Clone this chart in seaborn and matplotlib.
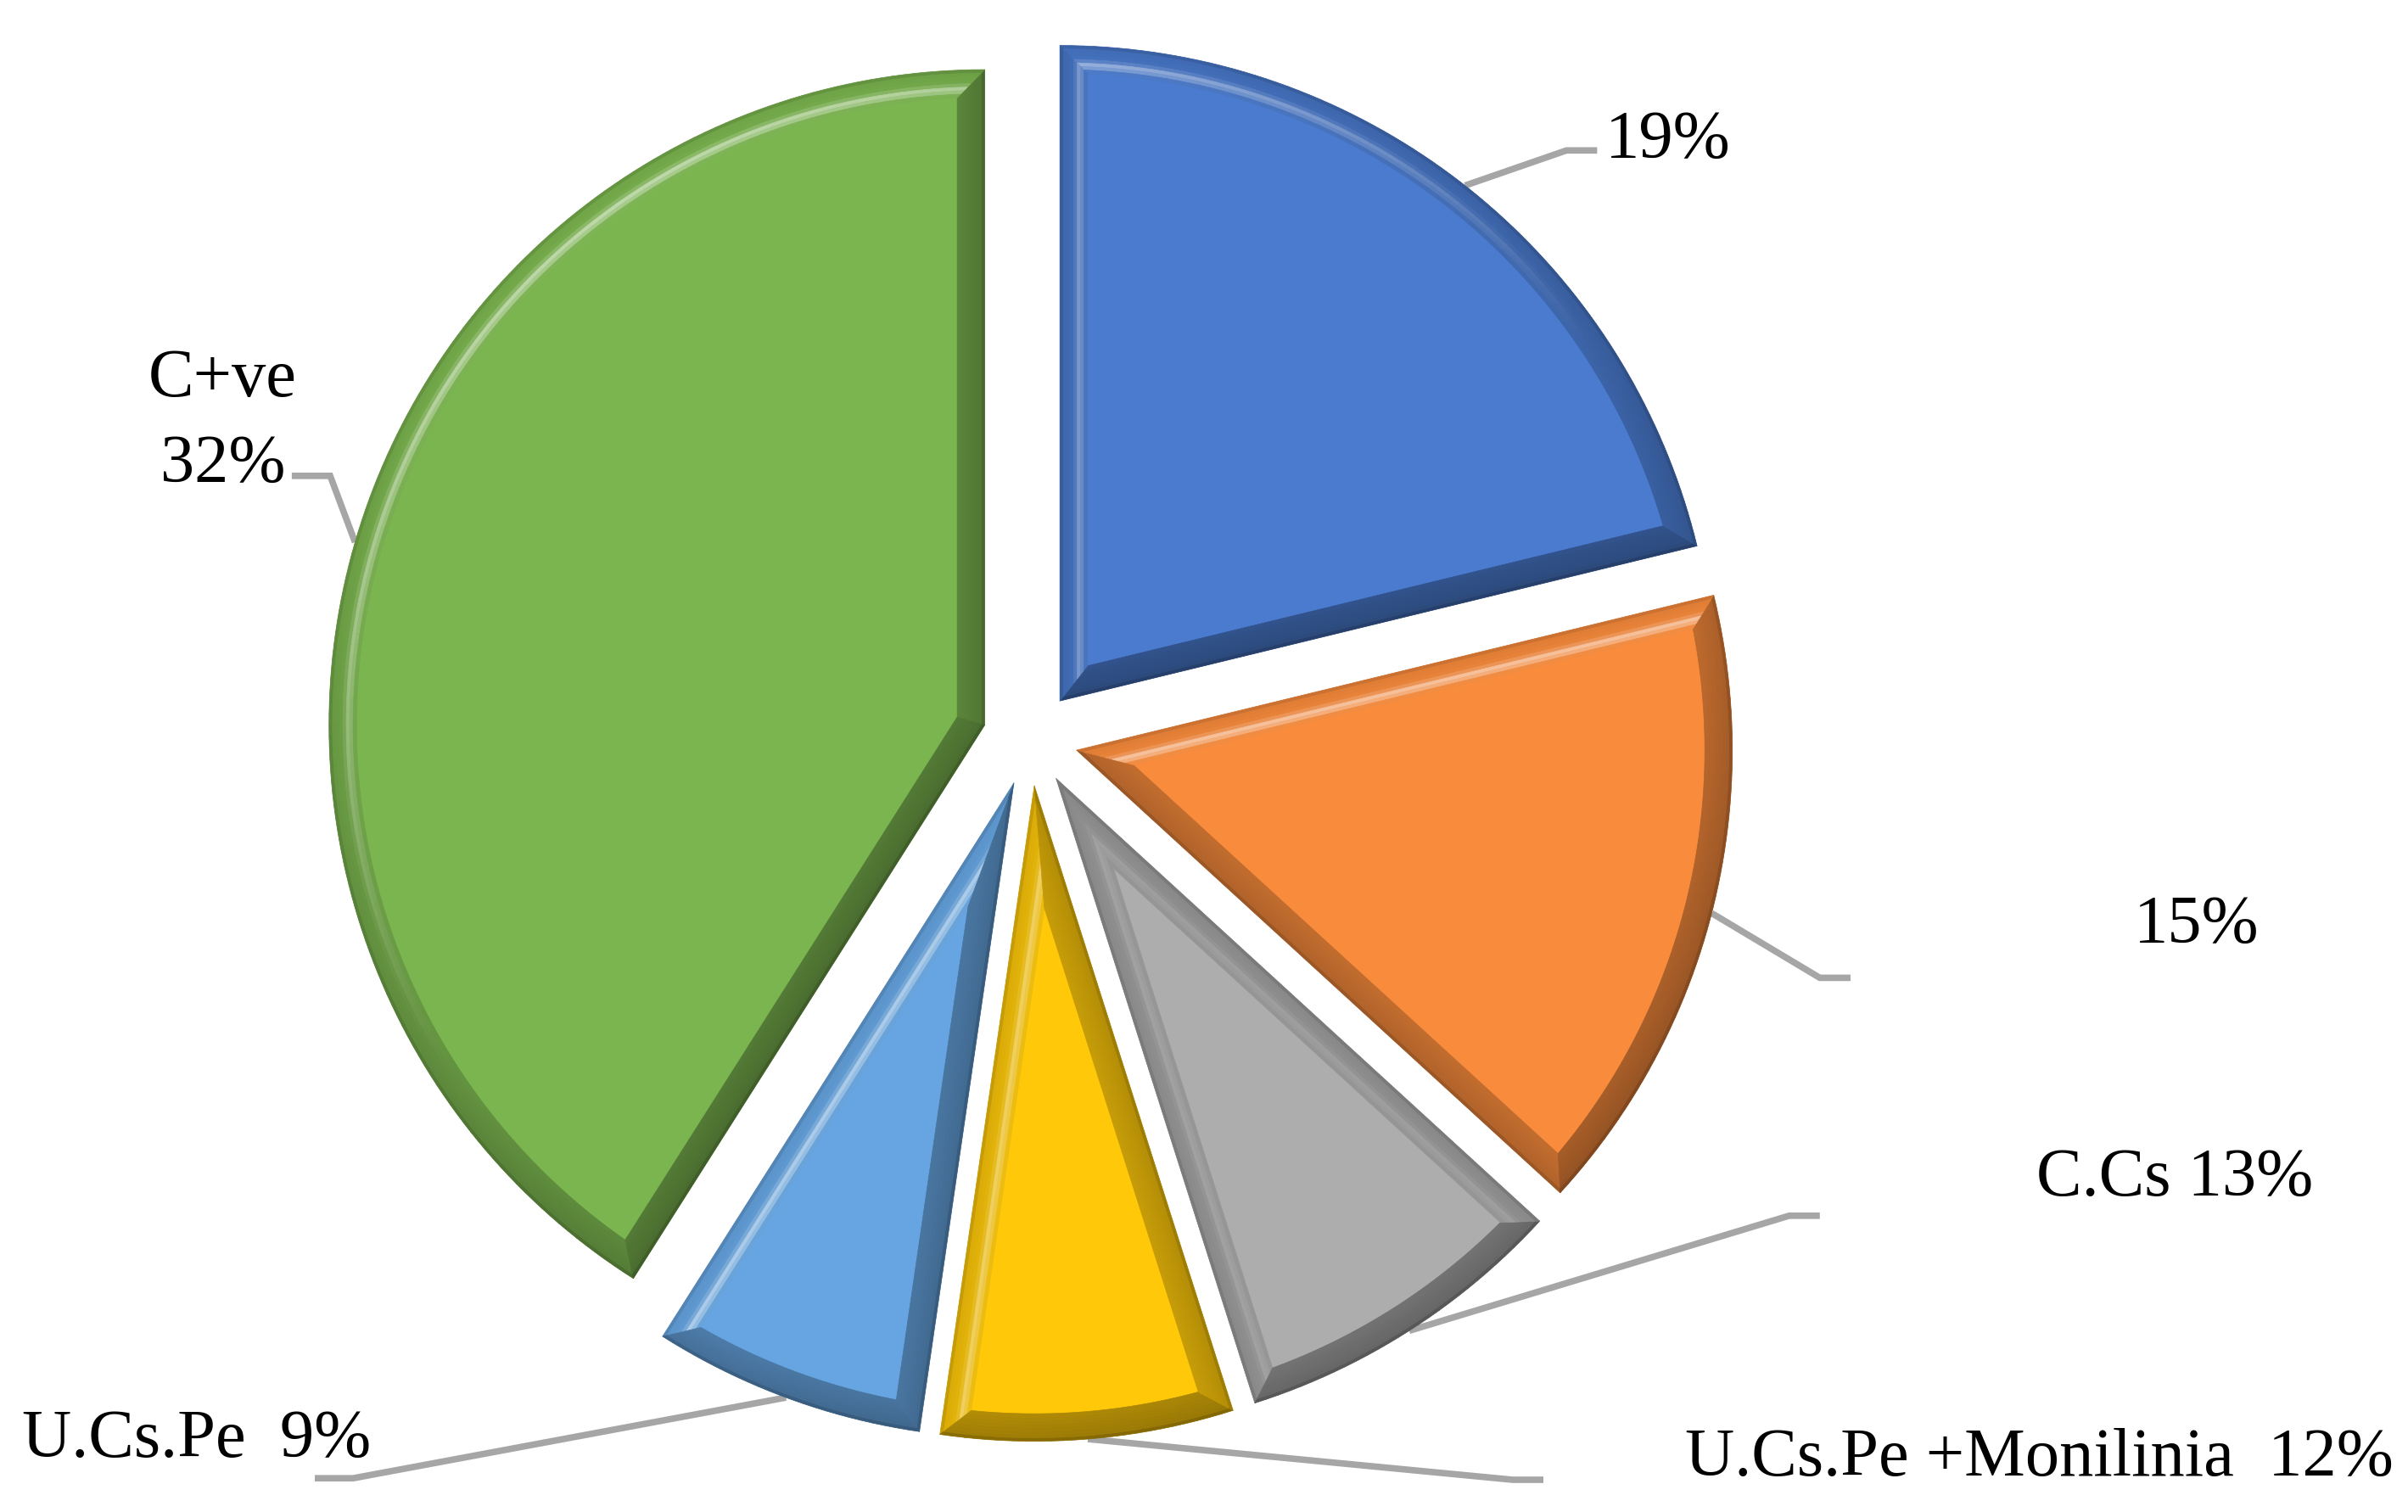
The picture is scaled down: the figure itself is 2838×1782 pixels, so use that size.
import numpy as np
import matplotlib
matplotlib.use("Agg")
import matplotlib.pyplot as plt
import seaborn as sns
from matplotlib.collections import PolyCollection
from matplotlib.colors import to_rgb

# ---- data (slice sizes; label texts as printed) ----
shares = [21.2, 15.6, 8.3, 7.2, 6.7, 41.0]
label_texts = ["19%", "15%", "C.Cs 13%", "U.Cs.Pe +Monilinia  12%", "U.Cs.Pe  9%", "C+ve\n32%"]
slice_colors = ["#4A7BCF", "#F98B3C", "#ADADAD", "#FFC90A", "#66A5E1", "#7BB54F"]

sns.set_theme(style="white")
plt.rcParams["font.family"] = ["Liberation Serif", "DejaVu Serif"]

palette = sns.color_palette(slice_colors)

fig = plt.figure(figsize=(28.38, 17.82), dpi=100)
ax = fig.add_axes([0, 0, 1, 1])

# reference layout frame (pixel grid of a 1568x985 view), pie centre and radius
CX, CY, R = 671.0, 481.0, 427.0
def ref(x, y):
    return ((x - CX) / R, (CY - y) / R)

wedges, _ = ax.pie(shares, explode=[0.0726] * len(shares), startangle=90,
                   counterclock=False, colors=palette, radius=1.0, center=(0, 0),
                   wedgeprops=dict(linewidth=0), frame=False)
ax.set_aspect("auto")
x0, y1 = ref(0, 0)
x1, y0 = ref(1568, 985)
ax.set_xlim(x0, x1)
ax.set_ylim(y0, y1)
ax.axis("off")

# ---- bevel effect ----
light = np.array([-0.55, 0.83])
light /= np.linalg.norm(light)
D = 0.042
K = 8

def mix(c, other, t):
    c = np.array(to_rgb(c)); o = np.array(to_rgb(other))
    return tuple(np.clip(c * (1 - t) + o * t, 0, 1))

def outline(w, e, n):
    cx, cy = w.center
    r = w.r
    t1, t2 = np.radians(w.theta1), np.radians(w.theta2)
    half = (t2 - t1) / 2
    bis = (t1 + t2) / 2
    off = e / np.sin(half) if e > 0 else 0.0
    tip = (cx + off * np.cos(bis), cy + off * np.sin(bis))
    delta = np.arcsin(e / (r - e)) if e > 0 else 0.0
    ang = np.linspace(t1 + delta, t2 - delta, n)
    arc = np.c_[cx + (r - e) * np.cos(ang), cy + (r - e) * np.sin(ang)]
    return tip, arc

for w, col in zip(wedges, palette):
    t1, t2 = np.radians(w.theta1), np.radians(w.theta2)
    n = max(int(np.degrees(t2 - t1) / 1.0), 10)
    amid = np.linspace(t1, t2, n)
    normals = [t1 - np.pi / 2] + list((amid[:-1] + amid[1:]) / 2) + [t2 + np.pi / 2]
    dots = [np.cos(nm) * light[0] + np.sin(nm) * light[1] for nm in normals]
    polys, cols = [], []
    for k in range(K):
        eo, ei = D * k / K, D * (k + 1) / K
        s = (k + 0.5) / K
        tipo, arco = outline(w, eo, n)
        tipi, arci = outline(w, ei, n)
        segs = [[tipo, tuple(arco[0]), tuple(arci[0]), tipi]]
        for i in range(n - 1):
            segs.append([tuple(arco[i]), tuple(arco[i + 1]), tuple(arci[i + 1]), tuple(arci[i])])
        segs.append([tuple(arco[-1]), tipo, tipi, tuple(arci[-1])])
        for sg, dt in zip(segs, dots):
            dark = 0.10 + 0.32 * (1 - dt) / 2 - 0.08 * s
            if s < 0.15:
                dark += 0.08
            c = mix(col, "black", max(dark, 0))
            hl = max(dt, 0) * 0.55 * np.exp(-((s - 0.72) / 0.14) ** 2)
            c = mix(c, "white", hl)
            polys.append(sg)
            cols.append(c)
    ax.add_collection(PolyCollection(polys, facecolors=cols, edgecolors=cols,
                                     linewidths=0.5, zorder=3))

# ---- leader lines and labels ----
elbows = [(1020, 98), (1185, 637), (1165, 792), (985, 964), (230, 963), (215, 310)]
ends = [(1040, 98), (1205, 637), (1185, 792), (1005, 964), (205, 963), (190, 310)]
text_pos = [(1045, 103), (1430, 614), (1416, 779), (1328, 961), (128, 949), (145, 314)]
text_ha = ["left", "center", "center", "center", "center", "center"]
line_gap = 56

for w, lab, el, en, tp, ha in zip(wedges, label_texts, elbows, ends, text_pos, text_ha):
    mid = np.radians((w.theta1 + w.theta2) / 2)
    sx = w.center[0] + w.r * np.cos(mid)
    sy = w.center[1] + w.r * np.sin(mid)
    ex, ey = ref(*el)
    nx, ny = ref(*en)
    ax.plot([sx, ex, nx], [sy, ey, ny], color="#A6A6A6", lw=5.5, zorder=2,
            solid_joinstyle="miter", solid_capstyle="butt")
    lines = lab.split("\n")
    for k, ln in enumerate(lines):
        yy = tp[1] - line_gap * (len(lines) - 1 - k)
        tx, ty = ref(tp[0], yy)
        ax.text(tx, ty, ln, ha=ha, va="baseline", fontsize=58, color="black", zorder=5)

fig.savefig("out.png", dpi=100, facecolor="white")
